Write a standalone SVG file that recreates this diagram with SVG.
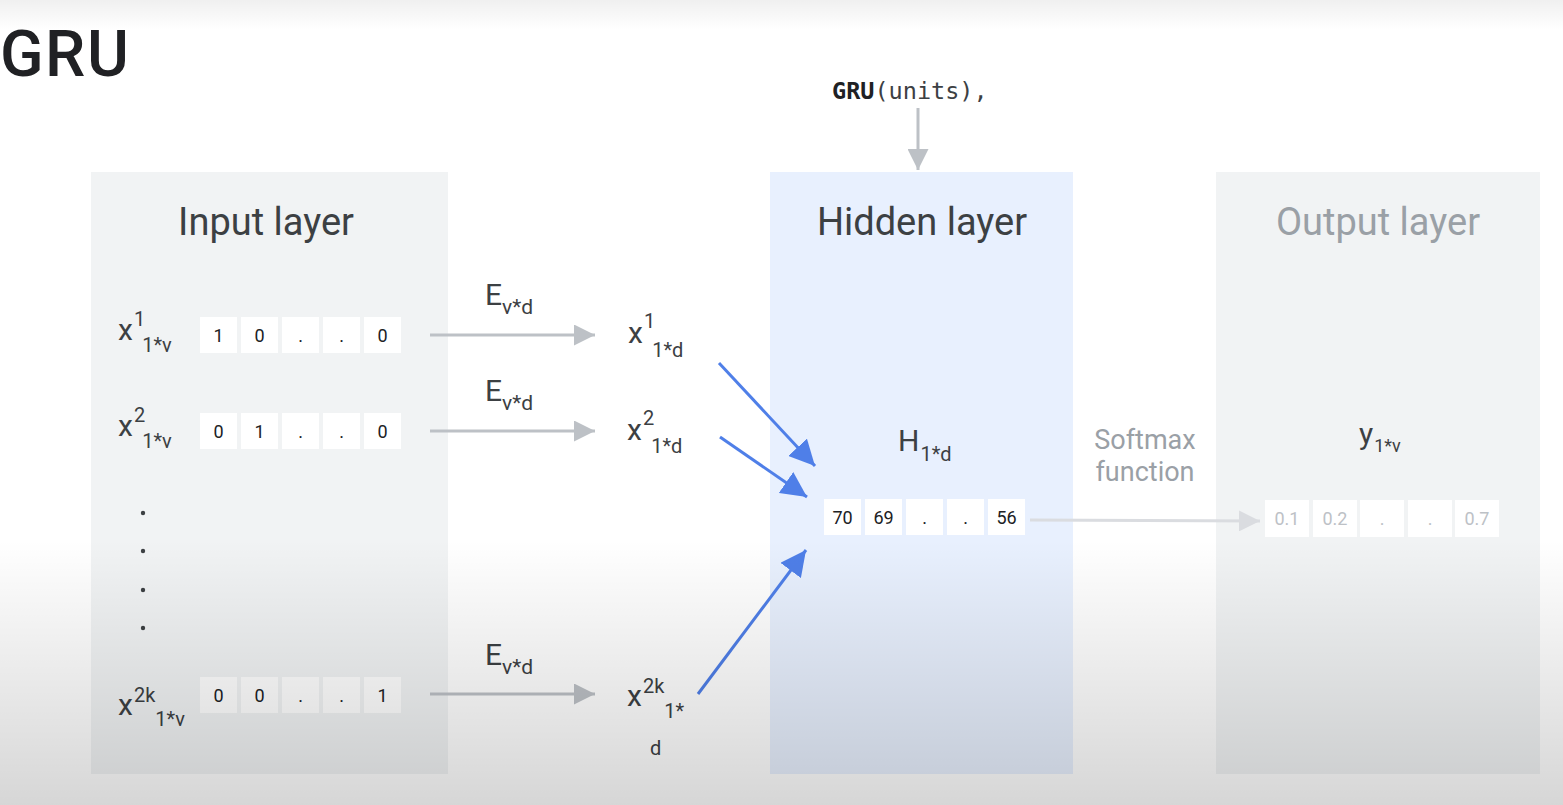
<svg xmlns="http://www.w3.org/2000/svg" width="1563" height="805" viewBox="0 0 1563 805">
  <defs>
    <style>
      .sans { font-family: Roboto, "Noto Sans", "Liberation Sans", sans-serif; }
      .title { font-size: 64px; font-weight: 500; fill: #202124; letter-spacing: 1.5px; }
      .layer { font-size: 38px; fill: #3c4043; text-anchor: middle; }
      .muted { fill: #9aa0a6; }
      .var { font-size: 30px; fill: #3c4043; }
      .sub { font-size: 20px; }
      .cell { fill: #ffffff; }
      .cellTxt { font-size: 18px; fill: #202124; text-anchor: middle; }
      .cellTxtMuted { font-size: 18px; fill: #bdc1c6; text-anchor: middle; }
      .dot { fill: #3c4043; }
      .grayLine { stroke: #bdc1c6; stroke-width: 3; fill: none; }
      .lightLine { stroke: #dadce0; stroke-width: 3; fill: none; }
      .blueLine { stroke: #4f7fe8; stroke-width: 3; fill: none; }
      .code { font-family: "DejaVu Sans Mono", "Liberation Mono", monospace; font-size: 23.5px; fill: #3c4043; }
    </style>
    <marker id="headGray" viewBox="0 0 10 10" refX="10" refY="5" markerWidth="7" markerHeight="7" markerUnits="strokeWidth" orient="auto">
      <path d="M0,0 L10,5 L0,10 z" fill="#bdc1c6"/>
    </marker>
    <marker id="headLight" viewBox="0 0 10 10" refX="10" refY="5" markerWidth="7" markerHeight="7" markerUnits="strokeWidth" orient="auto">
      <path d="M0,0 L10,5 L0,10 z" fill="#dadce0"/>
    </marker>
    <marker id="headBlue" viewBox="0 0 10 10" refX="10" refY="5" markerWidth="8.5" markerHeight="8.5" markerUnits="strokeWidth" orient="auto">
      <path d="M0,0 L10,5 L0,10 z" fill="#4f7fe8"/>
    </marker>
    <linearGradient id="shadeBottom" gradientUnits="userSpaceOnUse" x1="0" y1="540" x2="0" y2="805">
      <stop offset="0" stop-color="#000" stop-opacity="0"/>
      <stop offset="1" stop-color="#000" stop-opacity="0.16"/>
    </linearGradient>
    <linearGradient id="shadeTop" gradientUnits="userSpaceOnUse" x1="0" y1="0" x2="0" y2="30">
      <stop offset="0" stop-color="#000" stop-opacity="0.06"/>
      <stop offset="1" stop-color="#000" stop-opacity="0"/>
    </linearGradient>
  </defs>

  <rect x="0" y="0" width="1563" height="805" fill="#ffffff"/>

  <text class="sans title" x="0" y="76">GRU</text>

  <!-- input layer -->
  <g id="input-layer">
    <rect x="91" y="172" width="357" height="602" fill="#f1f3f4"/>
    <text class="sans layer" x="266" y="235">Input layer</text>

    <g id="x1-onehot">
      <text class="sans var" x="118" y="340">x<tspan class="sub" dx="1" dy="-14">1</tspan><tspan class="sub" dx="-3" dy="26">1*v</tspan></text>
      <rect class="cell" x="200" y="317" width="37" height="36"/>
      <rect class="cell" x="241" y="317" width="37" height="36"/>
      <rect class="cell" x="282" y="317" width="37" height="36"/>
      <rect class="cell" x="323" y="317" width="37" height="36"/>
      <rect class="cell" x="364" y="317" width="37" height="36"/>
      <text class="sans cellTxt" x="218.5" y="342">1</text>
      <text class="sans cellTxt" x="259.5" y="342">0</text>
      <text class="sans cellTxt" x="300.5" y="342">.</text>
      <text class="sans cellTxt" x="341.5" y="342">.</text>
      <text class="sans cellTxt" x="382.5" y="342">0</text>
    </g>

    <g id="x2-onehot">
      <text class="sans var" x="118" y="436">x<tspan class="sub" dx="1" dy="-14">2</tspan><tspan class="sub" dx="-3" dy="26">1*v</tspan></text>
      <rect class="cell" x="200" y="413" width="37" height="36"/>
      <rect class="cell" x="241" y="413" width="37" height="36"/>
      <rect class="cell" x="282" y="413" width="37" height="36"/>
      <rect class="cell" x="323" y="413" width="37" height="36"/>
      <rect class="cell" x="364" y="413" width="37" height="36"/>
      <text class="sans cellTxt" x="218.5" y="438">0</text>
      <text class="sans cellTxt" x="259.5" y="438">1</text>
      <text class="sans cellTxt" x="300.5" y="438">.</text>
      <text class="sans cellTxt" x="341.5" y="438">.</text>
      <text class="sans cellTxt" x="382.5" y="438">0</text>
    </g>

    <g id="ellipsis">
      <circle class="dot" cx="143" cy="513" r="2.2"/>
      <circle class="dot" cx="143" cy="551" r="2.2"/>
      <circle class="dot" cx="143" cy="590" r="2.2"/>
      <circle class="dot" cx="143" cy="628" r="2.2"/>
    </g>

    <g id="x2k-onehot">
      <text class="sans var" x="118" y="715">x<tspan class="sub" dx="1" dy="-13">2k</tspan><tspan class="sub" dx="0" dy="24">1*v</tspan></text>
      <rect class="cell" x="200" y="677" width="37" height="36"/>
      <rect class="cell" x="241" y="677" width="37" height="36"/>
      <rect class="cell" x="282" y="677" width="37" height="36"/>
      <rect class="cell" x="323" y="677" width="37" height="36"/>
      <rect class="cell" x="364" y="677" width="37" height="36"/>
      <text class="sans cellTxt" x="218.5" y="702">0</text>
      <text class="sans cellTxt" x="259.5" y="702">0</text>
      <text class="sans cellTxt" x="300.5" y="702">.</text>
      <text class="sans cellTxt" x="341.5" y="702">.</text>
      <text class="sans cellTxt" x="382.5" y="702">1</text>
    </g>
  </g>

  <!-- hidden layer -->
  <g id="hidden-layer">
    <rect x="770" y="172" width="303" height="602" fill="#e8f0fe"/>
    <text class="sans layer" x="922" y="235">Hidden layer</text>
    <text class="sans var" x="898" y="451">H<tspan class="sub" dx="1" dy="10">1*d</tspan></text>
    <rect class="cell" x="824" y="499" width="37" height="36"/>
    <rect class="cell" x="865" y="499" width="37" height="36"/>
    <rect class="cell" x="906" y="499" width="37" height="36"/>
    <rect class="cell" x="947" y="499" width="37" height="36"/>
    <rect class="cell" x="988" y="499" width="37" height="36"/>
    <text class="sans cellTxt" x="842.5" y="524">70</text>
    <text class="sans cellTxt" x="883.5" y="524">69</text>
    <text class="sans cellTxt" x="924.5" y="524">.</text>
    <text class="sans cellTxt" x="965.5" y="524">.</text>
    <text class="sans cellTxt" x="1006.5" y="524">56</text>
  </g>

  <!-- output layer -->
  <g id="output-layer">
    <rect x="1216" y="172" width="324" height="602" fill="#f1f3f4"/>
    <text class="sans layer muted" x="1378" y="235">Output layer</text>
    <text class="sans var muted" x="1359" y="444">y<tspan font-size="18" dx="1" dy="8">1*v</tspan></text>
    <rect class="cell" x="1265" y="500" width="44" height="37"/>
    <rect class="cell" x="1313" y="500" width="44" height="37"/>
    <rect class="cell" x="1360" y="500" width="44" height="37"/>
    <rect class="cell" x="1408" y="500" width="44" height="37"/>
    <rect class="cell" x="1455" y="500" width="44" height="37"/>
    <text class="sans cellTxtMuted" x="1287" y="525">0.1</text>
    <text class="sans cellTxtMuted" x="1335" y="525">0.2</text>
    <text class="sans cellTxtMuted" x="1382" y="525">.</text>
    <text class="sans cellTxtMuted" x="1430" y="525">.</text>
    <text class="sans cellTxtMuted" x="1477" y="525">0.7</text>
  </g>

  <!-- embedded vectors -->
  <g id="embedding-1">
    <text class="sans var" x="628" y="343">x<tspan class="sub" dx="1" dy="-15">1</tspan><tspan class="sub" dx="-3" dy="29">1*d</tspan></text>
  </g>
  <g id="embedding-2">
    <text class="sans var" x="627" y="440">x<tspan class="sub" dx="1" dy="-15">2</tspan><tspan class="sub" dx="-3" dy="28">1*d</tspan></text>
  </g>
  <g id="embedding-2k">
    <text class="sans var" x="627" y="706">x<tspan class="sub" dx="1" dy="-13">2k</tspan><tspan class="sub" dx="0" dy="25">1*</tspan></text>
    <text class="sans var sub" x="650" y="755">d</text>
  </g>

  <g id="gru-call">
    <text class="code" x="832" y="99"><tspan font-weight="bold" fill="#202124">GRU</tspan>(units),</text>
  </g>

  <g id="softmax-label">
    <text class="sans muted" font-size="27" text-anchor="middle" x="1145" y="449">Softmax</text>
    <text class="sans muted" font-size="27" text-anchor="middle" x="1145" y="481">function</text>
  </g>

  <!-- connectors -->
  <g id="connectors">
    <line class="grayLine" x1="430" y1="335" x2="595" y2="335" marker-end="url(#headGray)"/>
    <line class="grayLine" x1="430" y1="431" x2="595" y2="431" marker-end="url(#headGray)"/>
    <line class="grayLine" x1="430" y1="694" x2="595" y2="694" marker-end="url(#headGray)"/>
    <text class="sans var" x="485" y="305">E<tspan font-size="21" dx="0" dy="9">v*d</tspan></text>
    <text class="sans var" x="485" y="401">E<tspan font-size="21" dx="0" dy="9">v*d</tspan></text>
    <text class="sans var" x="485" y="665">E<tspan font-size="21" dx="0" dy="9">v*d</tspan></text>

    <line class="blueLine" x1="719" y1="363" x2="815" y2="466" marker-end="url(#headBlue)"/>
    <line class="blueLine" x1="720" y1="437" x2="807" y2="497" marker-end="url(#headBlue)"/>
    <line class="blueLine" x1="698" y1="694" x2="806" y2="550" marker-end="url(#headBlue)"/>

    <line class="grayLine" x1="918" y1="108" x2="918" y2="170" marker-end="url(#headGray)"/>
    <line class="lightLine" x1="1030" y1="520" x2="1260" y2="521" marker-end="url(#headLight)"/>
  </g>

  <!-- soft shading at the frame edges -->
  <rect x="0" y="0" width="1563" height="30" fill="url(#shadeTop)"/>
  <rect x="0" y="540" width="1563" height="265" fill="url(#shadeBottom)"/>
</svg>
